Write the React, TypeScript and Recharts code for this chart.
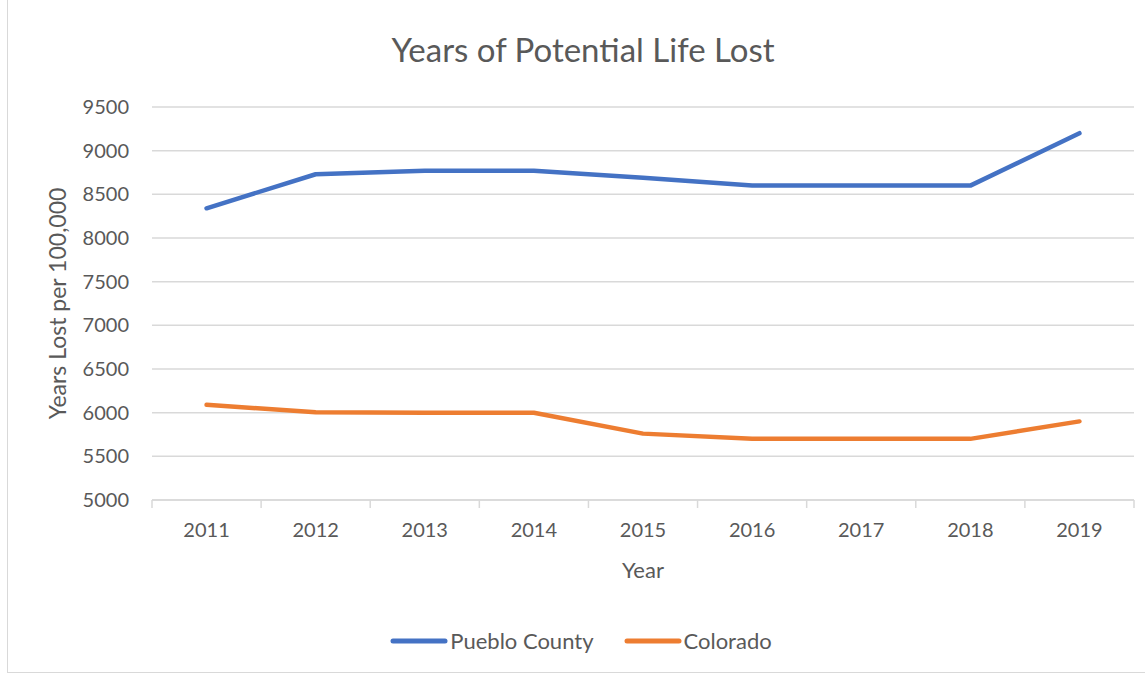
import { CartesianGrid, Legend, Line, LineChart, XAxis, YAxis } from "recharts";

const years = ["2011", "2012", "2013", "2014", "2015", "2016", "2017", "2018", "2019"];
const puebloCounty = [8340, 8730, 8770, 8770, 8690, 8600, 8600, 8600, 9200];
const colorado = [6090, 6005, 6000, 6000, 5760, 5700, 5700, 5700, 5900];
const yTicks = [5000, 5500, 6000, 6500, 7000, 7500, 8000, 8500, 9000, 9500];
const seriesOrder = ["Pueblo County", "Colorado"];

const rows = years.map((year, i) => ({
  year,
  pueblo: puebloCounty[i],
  colorado: colorado[i],
}));

const FONT = "Lato, 'Open Sans', sans-serif";
const TEXT = "#595959";
const GRID = "#d9d9d9";
const WIDTH = 1145;
const HEIGHT = 675;
const LEFT = 152;
const RIGHT = 11;
const PLOT_W = WIDTH - LEFT - RIGHT;
const STEP = PLOT_W / years.length;

function YearTick(props: any) {
  const { x, y, payload, index } = props;
  const axisY = 500;
  const last = index === years.length - 1;
  return (
    <g>
      <line x1={x - STEP / 2} x2={x - STEP / 2} y1={axisY} y2={axisY + 8} stroke={GRID} strokeWidth={1.5} />
      {last && (
        <line x1={x + STEP / 2} x2={x + STEP / 2} y1={axisY} y2={axisY + 8} stroke={GRID} strokeWidth={1.5} />
      )}
      <text x={x} y={y} dy="0.71em" textAnchor="middle" fill={TEXT} fontSize={20} fontFamily={FONT}>
        {payload.value}
      </text>
    </g>
  );
}

function LegendContent(props: any) {
  const items = [...(props.payload ?? [])].sort(
    (a: any, b: any) => seriesOrder.indexOf(a.value) - seriesOrder.indexOf(b.value)
  );
  return (
    <div
      style={{
        display: "flex",
        justifyContent: "center",
        gap: 30,
        paddingLeft: 28,
        fontFamily: FONT,
      }}
    >
      {items.map((item: any) => (
        <div key={item.value} style={{ display: "flex", alignItems: "center" }}>
          <svg width={58} height={10}>
            <line x1={3} x2={55} y1={5} y2={5} stroke={item.color} strokeWidth={5} strokeLinecap="round" />
          </svg>
          <span style={{ color: TEXT, fontSize: 22, marginLeft: 2 }}>{item.value}</span>
        </div>
      ))}
    </div>
  );
}

export default function App() {
  return (
    <div
      style={{
        position: "absolute",
        top: 0,
        left: 0,
        width: WIDTH,
        height: HEIGHT,
        background: "#fff",
        fontFamily: FONT,
      }}
    >
      <div
        style={{
          position: "absolute",
          left: 7,
          top: -1,
          width: WIDTH,
          height: HEIGHT - 1,
          border: `1px solid ${GRID}`,
          boxSizing: "border-box",
        }}
      />
      <div
        style={{
          position: "absolute",
          top: 29,
          left: 0,
          width: 1166,
          textAlign: "center",
          fontSize: 33,
          color: TEXT,
        }}
      >
        Years of Potential Life Lost
      </div>
      <LineChart
        width={WIDTH}
        height={HEIGHT}
        data={rows}
        margin={{ top: 107, right: RIGHT, bottom: 95, left: 0 }}
        style={{ position: "absolute", top: 0, left: 0 }}
      >
        <CartesianGrid vertical={false} stroke={GRID} strokeWidth={1.5} />
        <XAxis
          dataKey="year"
          scale="band"
          height={40}
          axisLine={{ stroke: GRID, strokeWidth: 1.5 }}
          tickLine={false}
          tickSize={8}
          tickMargin={15}
          tick={<YearTick />}
          interval={0}
          label={{
            value: "Year",
            position: "insideTop",
            offset: 62,
            fill: TEXT,
            fontSize: 22,
            fontFamily: FONT,
          }}
        />
        <YAxis
          width={LEFT}
          domain={[5000, 9500]}
          ticks={yTicks}
          interval={0}
          axisLine={false}
          tickLine={false}
          tickSize={0}
          tickMargin={23}
          tick={{ fill: TEXT, fontSize: 20, fontFamily: FONT }}
          label={{
            value: "Years Lost per 100,000",
            angle: -90,
            position: "insideLeft",
            offset: 58,
            fill: TEXT,
            fontSize: 23,
            fontFamily: FONT,
            style: { textAnchor: "middle" },
          }}
        />
        <Legend verticalAlign="bottom" height={40} wrapperStyle={{ bottom: 8 }} content={<LegendContent />} />
        <Line
          type="linear"
          dataKey="pueblo"
          name="Pueblo County"
          stroke="#4472c4"
          strokeWidth={4.5}
          strokeLinecap="round"
          strokeLinejoin="round"
          dot={false}
          activeDot={false}
          isAnimationActive={false}
        />
        <Line
          type="linear"
          dataKey="colorado"
          name="Colorado"
          stroke="#ed7d31"
          strokeWidth={4.5}
          strokeLinecap="round"
          strokeLinejoin="round"
          dot={false}
          activeDot={false}
          isAnimationActive={false}
        />
      </LineChart>
    </div>
  );
}
